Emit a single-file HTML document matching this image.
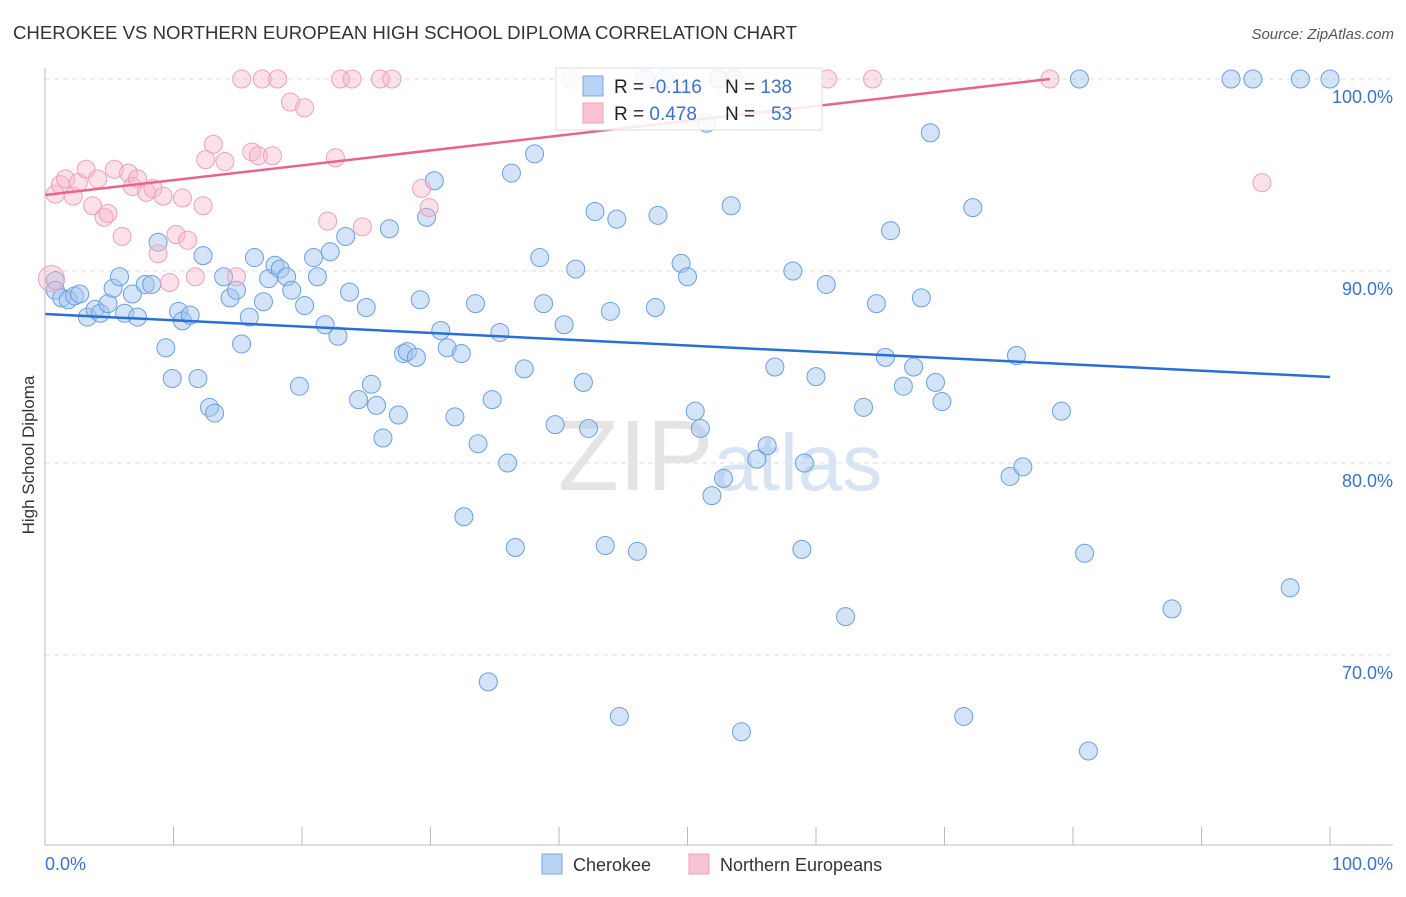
<!DOCTYPE html>
<html><head><meta charset="utf-8">
<style>
body{margin:0;background:#fff;font-family:"Liberation Sans",sans-serif;}
svg text{font-family:"Liberation Sans",sans-serif;}
</style></head>
<body>
<svg id="chart" width="1406" height="892" viewBox="0 0 1406 892" xmlns="http://www.w3.org/2000/svg">
<text x="13" y="39" font-size="18" fill="#333" textLength="784" lengthAdjust="spacingAndGlyphs">CHEROKEE VS NORTHERN EUROPEAN HIGH SCHOOL DIPLOMA CORRELATION CHART</text>
<text x="1394" y="39" font-size="15" fill="#555" text-anchor="end" font-style="italic">Source: ZipAtlas.com</text>
<g id="grid"></g>
<text x="720" y="490" font-size="100" fill="#e4e4e4" text-anchor="middle" font-family="Liberation Serif">ZIP<tspan fill="#d6e4f4" font-family="Liberation Sans" font-size="80">atlas</tspan></text>
<g id="points"></g>
<g id="trends"></g>
<g id="axes"></g>
<text transform="translate(34,455) rotate(-90)" font-size="17" fill="#333" text-anchor="middle">High School Diploma</text>
<g>
<rect x="556" y="68" width="266" height="62" fill="#fff" fill-opacity="0.85" stroke="#ddd"/>
<rect x="583" y="76" width="20" height="20" fill="#b8d2f4" stroke="#7aa8e4"/>
<rect x="583" y="103" width="20" height="20" fill="#f8c4d4" stroke="#f0a0b8"/>
<text x="614" y="93" font-size="19" fill="#222">R = <tspan fill="#3a72d0">-0.116</tspan><tspan x="725">N = </tspan><tspan fill="#3a72d0">138</tspan></text>
<text x="614" y="120" font-size="19" fill="#222">R = <tspan fill="#3a72d0"> 0.478</tspan><tspan x="725">N = </tspan><tspan fill="#3a72d0" x="771">53</tspan></text>
</g>
<g>
<rect x="542" y="854" width="20" height="20" fill="#b8d2f4" stroke="#7aa8e4"/>
<text x="573" y="871" font-size="18" fill="#333">Cherokee</text>
<rect x="689" y="854" width="20" height="20" fill="#f8c4d4" stroke="#f0a0b8"/>
<text x="720" y="871" font-size="18" fill="#333">Northern Europeans</text>
</g>
</svg>
<script>
const blueX=[0.8,0.8,1.3,1.8,2.3,2.7,3.3,3.9,4.3,4.9,5.3,5.8,6.2,6.8,7.2,7.8,8.3,8.8,9.4,9.9,10.4,10.7,11.3,11.9,12.3,12.8,13.2,13.9,14.4,14.9,15.3,15.9,16.3,17.0,17.4,17.9,18.3,18.8,19.2,19.8,20.2,20.9,21.2,21.8,22.2,22.8,23.4,23.7,24.4,25.0,25.4,25.8,26.3,26.8,27.5,27.9,28.2,28.9,29.2,29.7,30.3,30.8,31.3,31.9,32.4,32.6,33.5,33.7,34.5,34.8,35.4,36.0,36.3,36.6,37.3,38.1,38.5,38.8,39.7,40.4,41.3,41.9,42.3,42.8,43.6,44.0,44.5,44.7,46.1,47.5,47.7,49.5,50.0,50.6,51.0,51.5,51.9,52.8,53.4,54.2,55.4,56.2,56.8,58.2,58.9,59.1,60.0,60.8,62.3,63.7,64.7,65.4,65.8,66.8,67.6,68.2,68.9,69.3,69.8,71.5,72.2,75.1,75.6,76.1,79.1,80.9,81.2,87.7,96.9,80.5,92.3,94.0,97.7,100,46.7,48.2,52.4,53.6];
const blueY=[89.5,89.0,88.6,88.5,88.7,88.8,87.6,88.0,87.8,88.3,89.1,89.7,87.8,88.8,87.6,89.3,89.3,91.5,86.0,84.4,87.9,87.4,87.7,84.4,90.8,82.9,82.6,89.7,88.6,89.0,86.2,87.6,90.7,88.4,89.6,90.3,90.1,89.7,89.0,84.0,88.2,90.7,89.7,87.2,91.0,86.6,91.8,88.9,83.3,88.1,84.1,83.0,81.3,92.2,82.5,85.7,85.8,85.5,88.5,92.8,94.7,86.9,86.0,82.4,85.7,77.2,88.3,81.0,68.6,83.3,86.8,80.0,95.1,75.6,84.9,96.1,90.7,88.3,82.0,87.2,90.1,84.2,81.8,93.1,75.7,87.9,92.7,66.8,75.4,88.1,92.9,90.4,89.7,82.7,81.8,97.7,78.3,79.2,93.4,66.0,80.2,80.9,85.0,90.0,75.5,80.0,84.5,89.3,72.0,82.9,88.3,85.5,92.1,84.0,85.0,88.6,97.2,84.2,83.2,66.8,93.3,79.3,85.6,79.8,82.7,75.3,65.0,72.4,73.5,100,100,100,100,100,100,100,100,100];
const pinkX=[0.5,0.8,1.2,1.6,2.2,2.6,3.2,3.7,4.1,4.6,4.9,5.4,6.0,6.5,6.8,7.2,7.9,8.4,8.8,9.2,9.7,10.2,10.7,11.1,11.7,12.3,12.5,13.1,14.0,14.9,15.3,16.1,16.6,16.9,17.7,18.1,19.1,20.2,22.0,22.6,23.0,23.9,24.7,26.1,27.0,29.3,29.9,40.9,60.9,64.4,78.2,94.7];
const pinkY=[89.6,94.0,94.5,94.8,93.9,94.6,95.3,93.4,94.8,92.8,93.0,95.3,91.8,95.1,94.4,94.8,94.1,94.3,90.9,93.9,89.4,91.9,93.8,91.6,89.7,93.4,95.8,96.6,95.7,89.7,100,96.2,96.0,100,96.0,100,98.8,98.5,92.6,95.9,100,100,92.3,100,100,94.3,93.3,100,100,100,100,94.6];
const blueTrend=[87.76,84.48];
const pinkTrend=[93.96,100,78.2];
const yTicks=[100,90,80,70];
const yTickLabels=["100.0%","90.0%","80.0%","70.0%"];
const xTicks=[0,10,20,30,40,50,60,70,80,90,100];

const NS="http://www.w3.org/2000/svg";
const xs=v=>45+v*12.85;
const ys=v=>79+(100-v)*19.2;
function mk(tag,attrs,parent){const e=document.createElementNS(NS,tag);for(const k in attrs)e.setAttribute(k,attrs[k]);parent.appendChild(e);return e;}
const grid=document.getElementById('grid'),axes=document.getElementById('axes'),pts=document.getElementById('points'),tr=document.getElementById('trends');
yTicks.forEach((t,i)=>{
  const l=mk('line',{x1:45,x2:1393,y1:ys(t),y2:ys(t),stroke:'#ddd','stroke-dasharray':'5,4'},grid);
  
  
  const tx=mk('text',{x:1393,y:ys(t)+24,'font-size':18,fill:'#3a72d0','text-anchor':'end'},axes);
  tx.textContent=yTickLabels[i];
  
  
});
const ax=mk('line',{x1:45,x2:1393,y1:845,y2:845,stroke:'#bbb'},axes);


const ay=mk('line',{x1:45,x2:45,y1:68,y2:845,stroke:'#bbb'},axes);


xTicks.forEach(t=>{
  const l=mk('line',{x1:xs(t),x2:xs(t),y1:827,y2:845,stroke:'#bbb'},axes);
  
  
});
const x0=mk('text',{x:45,y:870,'font-size':18,fill:'#3a72d0'},axes);x0.textContent='0.0%';


const x1=mk('text',{x:1393,y:870,'font-size':18,fill:'#3a72d0','text-anchor':'end'},axes);x1.textContent='100.0%';


blueX.forEach((x,i)=>{
  const c=mk('circle',{cx:xs(x),cy:ys(blueY[i]),r:9,fill:'rgba(160,196,240,0.45)',stroke:'#6a9fe0','stroke-width':1},pts);
  
  
});
pinkX.forEach((x,i)=>{
  const c=mk('circle',{cx:xs(x),cy:ys(pinkY[i]),r:i===0?13:9,fill:'rgba(248,180,200,0.4)',stroke:'#f0a0b8','stroke-width':1},pts);
  
  
});
const bl=mk('line',{x1:xs(0),y1:ys(blueTrend[0]),x2:xs(100),y2:ys(blueTrend[1]),stroke:'#2a6fd6','stroke-width':2.5},tr);


const pl=mk('line',{x1:xs(0),y1:ys(pinkTrend[0]),x2:xs(pinkTrend[2]),y2:ys(pinkTrend[1]),stroke:'#e8648e','stroke-width':2.5},tr);


</script>
</body></html>
